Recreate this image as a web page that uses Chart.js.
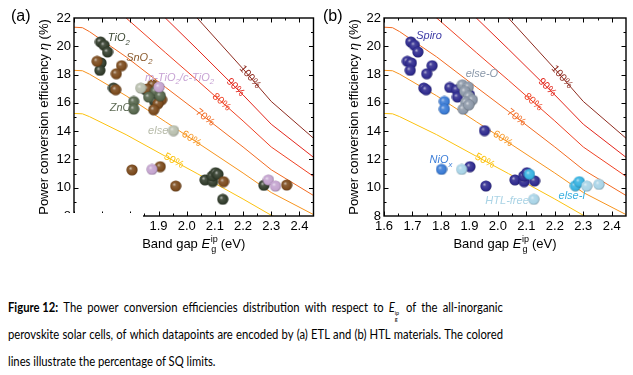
<!DOCTYPE html>
<html>
<head>
<meta charset="utf-8">
<script src="https://cdn.jsdelivr.net/npm/chart.js@4.4.1/dist/chart.umd.min.js"></script>
<style>
body { margin: 0; background: #fff; width: 633px; height: 375px; overflow: hidden; position: relative; }
canvas { position: absolute; top: 0; }
#chartA { left: 0; }
#chartB { left: 310px; }
.cap { position: absolute; left: 8px; font: 12.5px Lato, "Noto Sans", sans-serif; line-height: 27px; color: #000; white-space: nowrap; transform: scaleX(0.9); transform-origin: 0 0; }
.cap.j { display: flex; justify-content: space-between; width: 550px; }
.ss { display: inline-flex; flex-direction: column; font-size: 6px; line-height: 6px; vertical-align: -3px; margin-right: 2px; }
</style>
</head>
<body>
<canvas id="chartA" width="320" height="268"></canvas>
<canvas id="chartB" width="323" height="268"></canvas>
<div class="cap j" style="top:294px"><b>Figure 12:</b> The power conversion efficiencies distribution with respect to <i>E</i><span class="ss"><span>ip</span><span>g</span></span> of the all-inorganic</div>
<div class="cap j" style="top:321px">perovskite solar cells, of which datapoints are encoded by (a) ETL and (b) HTL materials. The colored</div>
<div class="cap" style="top:348px">lines illustrate the percentage of SQ limits.</div>
<script>
// axis ticks
const xTicks = [1.6, 1.7, 1.8, 1.9, 2.0, 2.1, 2.2, 2.3, 2.4];
const yTicks = [8, 10, 12, 14, 16, 18, 20, 22];

const sqGap   = [1.60, 1.63, 1.655, 1.785, 1.924, 2.037, 2.20, 2.30, 2.45];
const sqLimit = [30.5, 30.45, 30.05, 27.5, 24.45, 22.0, 18.4, 16.1, 13.5];
const sqShares = [100, 90, 80, 70, 60, 50];
const sqLabelGap = [2.225, 2.173, 2.124, 2.065, 2.017, 1.954];

// panel (a): ETL, [band gap eV, PCE %]
const etlTiO2 = [[1.694, 20.31], [1.707, 20.07], [1.719, 19.6], [1.696, 18.82], [1.692, 18.3], [1.74, 17.05],
    [1.854, 16.93], [1.886, 16.1], [2.065, 10.55], [2.092, 10.43], [2.091, 10.83], [2.102, 11.06],
    [2.111, 10.95], [2.128, 9.18], [2.274, 10.17]];
const etlSnO2 = [[1.682, 18.94], [1.769, 18.63], [1.75, 18.06], [1.748, 16.93], [1.879, 17.28], [1.86, 16.98],
    [1.911, 16.22], [1.898, 15.94], [1.883, 15.51], [1.806, 11.26], [1.906, 11.49], [1.961, 10.12],
    [2.131, 10.43], [2.355, 10.19]];
const etlZnO = [[1.812, 16.1], [1.812, 15.56], [1.889, 16.81], [1.906, 16.5], [1.865, 16.41]];
const etlMesoTiO2 = [[1.902, 17.12], [1.877, 11.3], [2.29, 10.55], [2.315, 10.12]];
const etlElse = [[1.837, 17.05], [1.953, 14.04]];

// panel (b): HTL
const htlSpiro = [[1.694, 20.31], [1.707, 20.07], [1.719, 19.6], [1.682, 18.94], [1.696, 18.82], [1.692, 18.3],
    [1.769, 18.63], [1.75, 18.06], [1.74, 17.05], [1.748, 16.93], [1.831, 17.09], [1.855, 16.93],
    [1.858, 16.41], [1.9, 16.57], [1.953, 14.04], [1.902, 11.49], [1.958, 10.12], [2.06, 10.55],
    [2.092, 10.43], [2.091, 10.83], [2.102, 11.06], [2.129, 10.48]];
const htlElseO = [[1.875, 17.28], [1.896, 17.12], [1.884, 16.81], [1.898, 16.45], [1.91, 16.22],
    [1.887, 16.03], [1.878, 15.56], [1.898, 15.86]];
const htlNiOx = [[1.802, 11.3], [1.812, 16.1], [1.812, 15.56]];
const htlFree = [[1.873, 11.3], [2.126, 9.18], [2.312, 10.12], [2.355, 10.24]];
const htlElseI = [[2.111, 10.95], [2.272, 10.14], [2.286, 10.43]];

const font = '"Liberation Sans", Arial, sans-serif';
const lineColors = ['#8e2b1f', '#e3261c', '#ef4123', '#f26a21', '#f7941e', '#fcc20f'];

// justified caption lines: every word becomes a flex item, space-between spreads them
document.querySelectorAll('.cap.j').forEach(div => {
    const items = [];
    let cur = null;
    [...div.childNodes].forEach(n => {
        if (n.nodeType === 3) {
            n.textContent.split(/(\s+)/).forEach(p => {
                if (!p) return;
                if (/^\s+$/.test(p)) { cur = null; return; }
                if (!cur) { cur = document.createElement('span'); items.push(cur); }
                cur.append(p);
            });
        } else {
            if (!cur) { cur = document.createElement('span'); items.push(cur); }
            cur.append(n.cloneNode(true));
        }
    });
    div.replaceChildren(...items);
});

const mix = (hex, t, target) => {
    const n = parseInt(hex.slice(1), 16);
    const c = [n >> 16, (n >> 8) & 255, n & 255].map(v => Math.round(v + (target - v) * t));
    return `rgb(${c.join(',')})`;
};

// little shaded sphere used as point style
const ball = (color) => {
    const c = document.createElement('canvas');
    c.width = c.height = 12;
    const g = c.getContext('2d');
    const grad = g.createRadialGradient(4.2, 4.2, 0, 6, 6, 6.2);
    grad.addColorStop(0, mix(color, 0.7, 255));
    grad.addColorStop(0.3, mix(color, 0.12, 255));
    grad.addColorStop(0.75, color);
    grad.addColorStop(1, mix(color, 0.4, 0));
    g.fillStyle = grad;
    g.beginPath();
    g.arc(6, 6, 5.6, 0, Math.PI * 2);
    g.fill();
    return c;
};

const interp = (xs, ys, x) => {
    for (let i = 1; i < xs.length; i++) {
        if (x <= xs[i]) {
            const t = (x - xs[i - 1]) / (xs[i] - xs[i - 1]);
            return ys[i - 1] + t * (ys[i] - ys[i - 1]);
        }
    }
    return ys[ys.length - 1];
};

// text with "_x" for a one-char subscript
const drawRich = (ctx, text, x, y, size) => {
    let cx = x;
    for (let i = 0; i < text.length; i++) {
        if (text[i] === '_') {
            i++;
            ctx.font = `italic ${size * 0.7}px ${font}`;
            ctx.fillText(text[i], cx, y + size * 0.3);
            cx += ctx.measureText(text[i]).width;
        } else {
            ctx.font = `italic ${size}px ${font}`;
            ctx.fillText(text[i], cx, y);
            cx += ctx.measureText(text[i]).width;
        }
    }
};

const drawLineLabels = (chart) => {
    const {ctx, scales: {x, y}} = chart;
    ctx.save();
    ctx.font = `10.5px ${font}`;
    ctx.textAlign = 'center';
    ctx.textBaseline = 'middle';
    sqShares.forEach((share, i) => {
        const g = sqLabelGap[i];
        const f = share / 100;
        const px = x.getPixelForValue(g);
        const py = y.getPixelForValue(f * interp(sqGap, sqLimit, g));
        const dx = x.getPixelForValue(g + 0.03) - x.getPixelForValue(g - 0.03);
        const dy = y.getPixelForValue(f * interp(sqGap, sqLimit, g + 0.03)) - y.getPixelForValue(f * interp(sqGap, sqLimit, g - 0.03));
        ctx.save();
        ctx.translate(px, py);
        ctx.rotate(Math.atan2(dy, dx));
        ctx.fillStyle = lineColors[i];
        ctx.fillText(share + '%', 0, 0);
        ctx.restore();
    });
    ctx.restore();
};

const sciFrame = {
    id: 'sciFrame',
    beforeDraw(chart) {
        chart.$labelsDone = false;
    },
    beforeDatasetDraw(chart, args) {
        const ds = chart.data.datasets[args.index];
        if (!ds.showLine && !chart.$labelsDone) {
            drawLineLabels(chart);
            chart.$labelsDone = true;
        }
    },
    afterDraw(chart, args, opts) {
        const {ctx, chartArea: {left, right, top, bottom}, scales: {x, y}} = chart;
        ctx.save();

        // category labels
        opts.labels.forEach(l => {
            ctx.fillStyle = l.color;
            ctx.textAlign = 'left';
            ctx.textBaseline = 'alphabetic';
            drawRich(ctx, l.text, x.getPixelForValue(l.at[0]), y.getPixelForValue(l.at[1]), 11);
        });

        // box with inward ticks on all sides
        ctx.strokeStyle = '#000';
        ctx.lineWidth = 1.4;
        ctx.strokeRect(left, top, right - left, bottom - top);
        ctx.lineWidth = 1;
        ctx.beginPath();
        xTicks.forEach(v => {
            [[v, 4.5], [v + 0.05, 2.5]].forEach(([t, len]) => {
                const px = Math.round(x.getPixelForValue(t)) + 0.5;
                if (px >= right - 1) return;
                ctx.moveTo(px, bottom); ctx.lineTo(px, bottom - len);
                ctx.moveTo(px, top); ctx.lineTo(px, top + len);
            });
        });
        yTicks.forEach(v => {
            [[v, 4.5], [v + 1, 2.5]].forEach(([t, len]) => {
                if (t >= 22 || t <= 8) return;
                const py = Math.round(y.getPixelForValue(t)) + 0.5;
                ctx.moveTo(left, py); ctx.lineTo(left + len, py);
                ctx.moveTo(right, py); ctx.lineTo(right - len, py);
            });
        });
        ctx.stroke();

        // axis titles
        ctx.fillStyle = '#000';
        ctx.textBaseline = 'alphabetic';
        ctx.textAlign = 'left';
        const yParts = [['Power conversion efficiency ', ''], ['\u03b7', 'italic '], [' (%)', '']];
        const widthOf = parts => parts.reduce((w, [t, st]) => {
            ctx.font = `${st}13px ${font}`;
            return w + ctx.measureText(t).width;
        }, 0);
        ctx.save();
        ctx.translate(48, (top + bottom) / 2);
        ctx.rotate(-Math.PI / 2);
        let cx = -widthOf(yParts) / 2;
        yParts.forEach(([t, st]) => {
            ctx.font = `${st}13px ${font}`;
            ctx.fillText(t, cx, 0);
            cx += ctx.measureText(t).width;
        });
        ctx.restore();

        ctx.font = `13px ${font}`;
        const a = ctx.measureText('Band gap ').width;
        ctx.font = `italic 13px ${font}`;
        const e = ctx.measureText('E').width;
        ctx.font = `9px ${font}`;
        const s = ctx.measureText('ip').width;
        ctx.font = `13px ${font}`;
        const b = ctx.measureText(' (eV)').width;
        cx = (left + right) / 2 - (a + e + s + b) / 2;
        const by = 248;
        ctx.fillText('Band gap ', cx, by); cx += a;
        ctx.font = `italic 13px ${font}`;
        ctx.fillText('E', cx, by); cx += e;
        ctx.font = `9px ${font}`;
        ctx.fillText('ip', cx + 0.5, by - 6);
        ctx.fillText('g', cx + 1, by + 4); cx += s;
        ctx.font = `13px ${font}`;
        ctx.fillText(' (eV)', cx, by);

        // panel letter
        ctx.font = `16px ${font}`;
        ctx.fillText(opts.letter, opts.letterX, 21);

        // torn-off corner of panel (a)
        if (opts.mask) {
            ctx.fillStyle = '#fff';
            ctx.fillRect(52, bottom - 3, 143 - 52, 26);
        }
        ctx.restore();
    }
};

const makeChart = (id, groups, labels, letter, letterX, mask, rightPad) => {
    const pointSets = groups.map(([pts, color]) => ({
        data: pts.map(([gx, gy]) => ({x: gx, y: gy})),
        pointStyle: ball(color),
        pointRadius: 5.5,
        showLine: false,
        order: 1
    }));
    const lineSets = sqShares.map((share, i) => ({
        data: sqGap.map((g, k) => ({x: g, y: sqLimit[k] * share / 100})),
        showLine: true,
        borderColor: lineColors[i],
        borderWidth: 1,
        pointRadius: 0,
        order: 2
    }));
    return new Chart(document.getElementById(id), {
        type: 'scatter',
        data: {datasets: [...pointSets, ...lineSets]},
        plugins: [sciFrame],
        options: {
            responsive: false,
            animation: false,
            events: [],
            layout: {padding: {top: 18, right: rightPad, left: 0, bottom: 0}},
            scales: {
                x: {
                    type: 'linear', min: 1.6, max: 2.45,
                    afterBuildTicks: s => { s.ticks = xTicks.map(v => ({value: v})); },
                    afterFit: s => { s.height = 52; },
                    ticks: {callback: v => v.toFixed(1), font: {family: font, size: 13}, color: '#000', padding: 3, maxRotation: 0},
                    grid: {display: false, drawTicks: false},
                    border: {display: false}
                },
                y: {
                    type: 'linear', min: 8, max: 22,
                    afterBuildTicks: s => { s.ticks = yTicks.map(v => ({value: v})); },
                    afterFit: s => { s.width = 74; },
                    ticks: {font: {family: font, size: 13}, color: '#000', padding: 3},
                    grid: {display: false, drawTicks: false},
                    border: {display: false}
                }
            },
            plugins: {
                legend: {display: false},
                tooltip: {enabled: false},
                sciFrame: {labels, letter, letterX, mask}
            }
        }
    });
};

makeChart('chartA', [
    [etlElse, '#b9bfae'],
    [etlMesoTiO2, '#c4a4cf'],
    [etlZnO, '#56664c'],
    [etlSnO2, '#7b4a1c'],
    [etlTiO2, '#323d2c']
], [
    {text: 'TiO_2', at: [1.72, 20.35], color: '#3b4733'},
    {text: 'SnO_2', at: [1.785, 18.99], color: '#8a5a2c'},
    {text: 'm-TiO_2/c-TiO_2', at: [1.852, 17.57], color: '#c7a3d4'},
    {text: 'ZnO', at: [1.727, 15.39], color: '#5e6b55'},
    {text: 'else', at: [1.863, 13.78], color: '#b7bba9'}
], '(a)', 11, true, 3);

makeChart('chartB', [
    [htlFree, '#a9d4e7'],
    [htlElseI, '#38b3e2'],
    [htlNiOx, '#3a7bd5'],
    [htlElseO, '#8d99a9'],
    [htlSpiro, '#2f2b8f']
], [
    {text: 'Spiro', at: [1.713, 20.52], color: '#3d3ba6'},
    {text: 'else-O', at: [1.887, 17.8], color: '#8a98aa'},
    {text: 'NiO_x', at: [1.76, 11.73], color: '#3b7dd8'},
    {text: 'HTL-free', at: [1.956, 8.84], color: '#a9d3e5'},
    {text: 'else-I', at: [2.213, 9.18], color: '#39b0e0'}
], '(b)', 13, false, 7);
</script>
</body>
</html>
